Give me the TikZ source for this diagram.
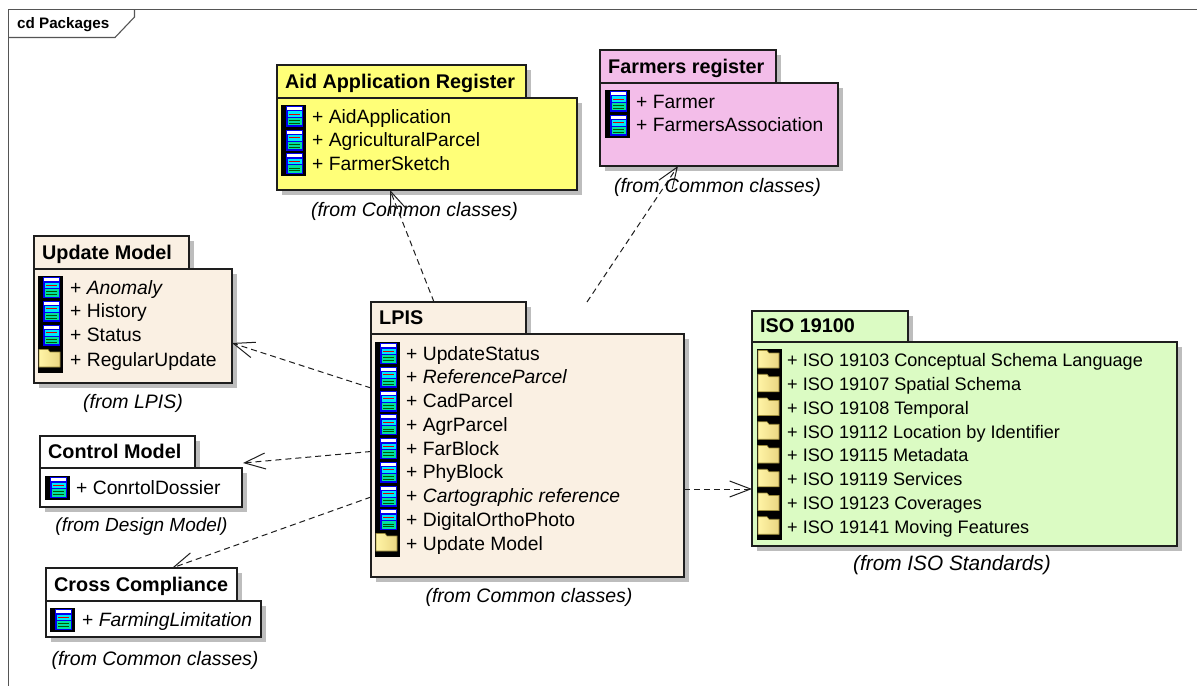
\documentclass[tikz,border=0pt]{standalone}
\usepackage{fontspec}
\setmainfont{Liberation Sans}
\usetikzlibrary{arrows.meta}
\definecolor{inkc}{HTML}{1E1E1E}
\definecolor{shadowc}{HTML}{BDBDBD}
\definecolor{framec}{HTML}{555555}
\definecolor{yellowc}{HTML}{FFFF78}
\definecolor{pinkc}{HTML}{F3BDE9}
\definecolor{creamc}{HTML}{FAF0E3}
\definecolor{greenc}{HTML}{DBFBC3}
\definecolor{iconblue}{HTML}{0000F0}
\definecolor{iconcyan}{HTML}{00E8F8}
\definecolor{icongreen}{HTML}{00E0A0}
\definecolor{folderlight}{HTML}{FFF4A6}
\definecolor{folderdark}{HTML}{EAD682}
\definecolor{folderedge}{HTML}{9A8A3A}
\newcommand{\rowfont}{\fontsize{19.3}{22}\selectfont}
\newcommand{\isofont}{\fontsize{18.1}{22}\selectfont}
\newcommand{\fromfont}{\fontsize{19.5}{22}\selectfont\itshape}
\newcommand{\titlefont}{\fontsize{19.8}{22}\selectfont\bfseries}
\tikzset{
  pkgpart/.style={draw=inkc,line width=1.3pt,inner sep=0pt,outer sep=0pt},
  pkgshadow/.style={fill=shadowc},
  rowtext/.style={anchor=base west,inner sep=0pt,font=\rowfont,text=black},
  fromtext/.style={inner sep=0pt,font=\fromfont,text=black},
  pkgtitle/.style={anchor=base west,inner sep=0pt,font=\titlefont,text=black},
  depend/.style={draw=inkc,line width=1pt,dash pattern=on 6pt off 4pt,
    -{Straight Barb[length=21pt,width=16pt,line width=1pt]}},
  pics/classicon/.style={code={
    \fill[black] (0,0) rectangle (25,24);
    \fill[iconblue] (5,1) rectangle (22,22);
    \fill[white] (6,2) rectangle (21,5);
    \fill[iconcyan] (6.5,6.5) rectangle (20.5,12);
    \fill[red!85!black] (8,8.6) rectangle (19,9.6);
    \fill[icongreen] (6.5,13) rectangle (20.5,20.5);
    \fill[green!35!black] (8,15.4) rectangle (19,16.1);
    \fill[green!35!black] (8,18) rectangle (19,18.7);
  }},
  pics/foldericon/.style={code={
    \fill[black] (0,0) rectangle (25,25);
    \draw[draw=folderedge,line width=.6pt,left color=folderlight,right color=folderdark]
      (1,19) -- (1,1.5) -- (10,1.5) -- (12,4) -- (22,4) -- (22,19) -- cycle;
  }},
}
% name, x1, y1, x2, y2, tab right, tab bottom, colour, title
\newcommand{\pkgbox}[9]{%
  \pgfmathsetmacro{\bw}{#4-#2}\pgfmathsetmacro{\bh}{#5-#7}%
  \pgfmathsetmacro{\tw}{#6-#2}\pgfmathsetmacro{\th}{#7-#3}%
  \pgfmathsetmacro{\bx}{(#2+#4)/2}\pgfmathsetmacro{\by}{(#5+#7)/2}%
  \pgfmathsetmacro{\tx}{(#2+#6)/2}\pgfmathsetmacro{\ty}{(#3+#7)/2}%
  \fill[pkgshadow] (#2+5,#3+5) rectangle (#6+5,#7+5);
  \fill[pkgshadow] (#2+5,#7+5) rectangle (#4+5,#5+5);
  \node[pkgpart,fill=#8,minimum width=\tw pt,minimum height=\th pt] (#1tab) at (\tx,\ty) {};
  \node[pkgpart,fill=#8,minimum width=\bw pt,minimum height=\bh pt] (#1) at (\bx,\by) {};
  \node[pkgtitle] (#1title) at (#2+8,#7-9.5) {#9};
}
% name prefix, icon x, text x, first row top, list of rows
\newcommand{\classrows}[5]{%
  \foreach \t [count=\i from 0] in {#5} {
    \pic at (#2,{#4+23.75*\i}) {classicon};
    \node[rowtext] (#1c\i) at (#3,{#4+18.2+23.75*\i}) {+ \t};
  }}
\newcommand{\folderrows}[5]{%
  \foreach \t [count=\i from 0] in {#5} {
    \pic at (#2,{#4+23.75*\i}) {foldericon};
    \node[rowtext,font=\isofont] (#1f\i) at (#3,{#4+17.8+23.75*\i}) {+ \t};
  }}
\begin{document}
\begin{tikzpicture}[x=1pt,y=-1pt]
\useasboundingbox (0,0) rectangle (1197,687);
\fill[white] (0,0) rectangle (1197,687);
% frame
\draw[framec,line width=1.2pt] (1197,9.5) -- (8.5,9.5) -- (8.5,686);
\draw[framec,line width=1.1pt] (134.5,9.5) -- (134.5,17) -- (115,37.5) -- (8.5,37.5);
\node[anchor=base west,inner sep=0pt,font=\fontsize{15.2}{18}\selectfont\bfseries] (frametitle) at (17,28.5) {cd Packages};

% packages
\pkgbox{aid}{277}{65}{577}{190}{526}{98}{yellowc}{Aid Application Register}
\classrows{aid}{281}{312}{105}{AidApplication,AgriculturalParcel,FarmerSketch}
\node[fromtext] (aidfrom) at (414.5,211) {(from Common classes)};

\pkgbox{farm}{600}{50}{838}{166}{776}{83}{pinkc}{Farmers register}
\classrows{farm}{605}{636}{90}{Farmer,FarmersAssociation}
\node[fromtext] (farmfrom) at (717.5,187) {(from Common classes)};

\pkgbox{upd}{34}{236}{232}{383}{189}{269}{creamc}{Update Model}
\classrows{upd}{38}{70}{276}{\textit{Anomaly},History,Status}
\pic at (38,348) {foldericon};
\node[rowtext] (updf) at (70,366.5) {+ RegularUpdate};
\node[fromtext] (updfrom) at (133,403) {(from LPIS)};

\pkgbox{ctl}{40}{436}{242}{507}{195}{468}{white}{Control Model}
\classrows{ctl}{45}{76}{476}{ConrtolDossier}
\node[fromtext,font=\fontsize{19}{22}\selectfont\itshape] (ctlfrom) at (141.5,527) {(from Design Model)};

\pkgbox{cross}{46}{568}{261}{637}{237}{601}{white}{Cross Compliance}
\classrows{cross}{50}{82}{608}{\textit{FarmingLimitation}}
\node[fromtext] (crossfrom) at (155,660) {(from Common classes)};

\pkgbox{lpis}{371}{302}{684}{577}{526}{334}{creamc}{LPIS}
\classrows{lpis}{375}{406}{342}{UpdateStatus,\textit{ReferenceParcel},CadParcel,AgrParcel,FarBlock,PhyBlock,\textit{Cartographic reference},DigitalOrthoPhoto}
\pic at (375,532) {foldericon};
\node[rowtext] (lpisf) at (406,550.2) {+ Update Model};
\node[fromtext] (lpisfrom) at (529,597) {(from Common classes)};

\pkgbox{iso}{752}{311}{1177}{546}{908}{342}{greenc}{ISO 19100}
\folderrows{iso}{757}{787}{349}{ISO 19103 Conceptual Schema Language,ISO 19107 Spatial Schema,ISO 19108 Temporal,ISO 19112 Location by Identifier,ISO 19115 Metadata,ISO 19119 Services,ISO 19123 Coverages,ISO 19141 Moving Features}
\node[fromtext,font=\fontsize{20.8}{22}\selectfont\itshape] (isofrom) at (952,565) {(from ISO Standards)};

% connectors
\coordinate (lpisfarmstart) at (587,302);
\coordinate (ctltip) at (243,463);
\draw[depend] (lpistab.north -| 434,0) -- (aid.south -| 390,0);
\draw[depend] (lpisfarmstart) -- (farm.south -| 678,0);
\draw[depend] (lpis.west |- 0,388) -- (upd.east |- 0,343);
\draw[depend] (lpis.west |- 0,451.5) -- (ctltip);
\draw[depend] (lpis.west |- 0,497) -- (crosstab.north -| 172,0);
\draw[depend] (lpis.east |- 0,489) -- (iso.west |- 0,489);
\end{tikzpicture}
\end{document}
